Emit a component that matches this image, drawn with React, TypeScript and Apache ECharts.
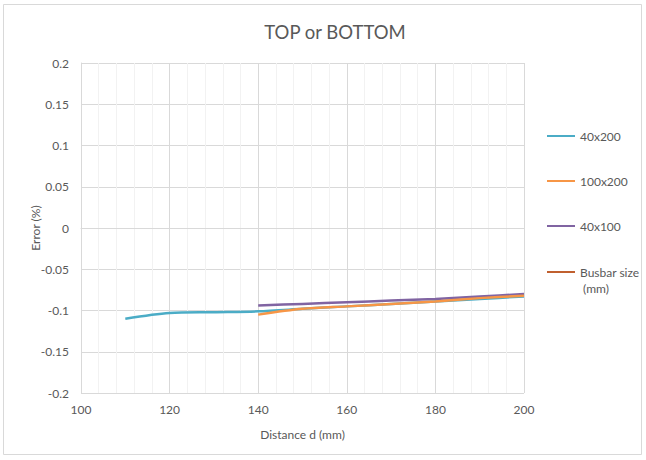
import React, { useEffect, useRef } from "react";
import * as echarts from "echarts";

const xTeal = [110, 120, 130, 140, 150, 160, 170, 180, 190, 200];
const yTeal = [-0.11, -0.103, -0.102, -0.101, -0.098, -0.095, -0.092, -0.089, -0.086, -0.083];
const xOrange = [140, 150, 160, 170, 180, 190, 200];
const yOrange = [-0.105, -0.098, -0.095, -0.092, -0.089, -0.085, -0.082];
const xPurple = [140, 150, 160, 170, 180, 190, 200];
const yPurple = [-0.094, -0.092, -0.09, -0.088, -0.086, -0.083, -0.08];
const seriesNames = ["40x200", "100x200", "40x100", "Busbar size (mm)"];
const seriesColors = ["#4BACC6", "#F79646", "#8064A2", "#C0602F"];

const pairs = (xs: number[], ys: number[]) => xs.map((x, i) => [x, ys[i]]);

const FONT = "Lato, 'Open Sans', sans-serif";
const GREY = "#595959";

export default function App() {
  const ref = useRef<HTMLDivElement>(null);
  useEffect(() => {
    if (!ref.current) return;
    const chart = echarts.init(ref.current, null, { renderer: "svg" });
    const datasets = [pairs(xTeal, yTeal), pairs(xOrange, yOrange), pairs(xPurple, yPurple), []];
    const legendBase = {
      orient: "vertical",
      left: 547,
      padding: 0,
      itemWidth: 28,
      itemHeight: 2,
      icon: "rect",
      textStyle: {
        fontFamily: FONT,
        fontSize: 12,
        color: GREY,
        lineHeight: 16,
        rich: { a: { fontFamily: FONT, fontSize: 12, color: GREY, lineHeight: 16 } },
      },
    };
    chart.setOption({
      animation: false,
      backgroundColor: "#ffffff",
      textStyle: { fontFamily: FONT },
      title: {
        text: "TOP or BOTTOM",
        left: 330,
        textAlign: "center",
        top: 17,
        textStyle: { fontFamily: FONT, fontSize: 18.5, fontWeight: "normal", color: GREY },
      },
      graphic: [
        {
          type: "rect",
          shape: { x: 3.5, y: 4.5, width: 638, height: 450 },
          style: { fill: "none", stroke: "#D9D9D9", lineWidth: 1 },
          silent: true,
          z: -1,
        },
      ],
      legend: [
        {
          ...legendBase,
          top: 128,
          itemGap: 29,
          data: seriesNames.slice(0, 3),
        },
        {
          ...legendBase,
          top: 248,
          data: [seriesNames[3]],
          formatter: () => "{a| }\n{a|Busbar size}\n{a| (mm)}",
        },
      ],
      grid: { left: 81, right: 122, top: 63, bottom: 67 },
      xAxis: {
        type: "value",
        min: 100,
        max: 200,
        interval: 20,
        name: "Distance d (mm)",
        nameLocation: "middle",
        nameGap: 35,
        nameTextStyle: { fontFamily: FONT, fontSize: 12, color: GREY },
        axisLine: { show: true, lineStyle: { color: "#D9D9D9" } },
        axisTick: { show: false },
        axisLabel: { fontFamily: FONT, fontSize: 12, color: GREY, margin: 10 },
        splitLine: { show: true, lineStyle: { color: "#D9D9D9", width: 1 } },
        minorTick: { show: false, splitNumber: 5 },
        minorSplitLine: { show: true, lineStyle: { color: "#F2F2F2", width: 1 } },
      },
      yAxis: {
        type: "value",
        min: -0.2,
        max: 0.2,
        interval: 0.05,
        name: "Error (%)",
        nameLocation: "middle",
        nameGap: 40,
        nameMoveOverlap: false,
        nameTextStyle: { fontFamily: FONT, fontSize: 12, color: GREY },
        axisLine: { show: true, lineStyle: { color: "#D9D9D9" } },
        axisTick: { show: false },
        axisLabel: { fontFamily: FONT, fontSize: 12, color: GREY, margin: 12 },
        splitLine: { show: true, lineStyle: { color: "#D9D9D9", width: 1 } },
      },
      series: seriesNames.map((n, i) => ({
        name: n,
        type: "line",
        data: datasets[i],
        symbol: "none",
        smooth: 0.3,
        lineStyle: { color: seriesColors[i], width: 2.5 },
        itemStyle: { color: seriesColors[i] },
        z: i === 2 ? 3 : i === 1 ? 4 : 2,
      })),
    });
    return () => chart.dispose();
  }, []);
  return (
    <div
      ref={ref}
      style={{ position: "fixed", left: 0, top: 0, width: 646, height: 460 }}
    />
  );
}
